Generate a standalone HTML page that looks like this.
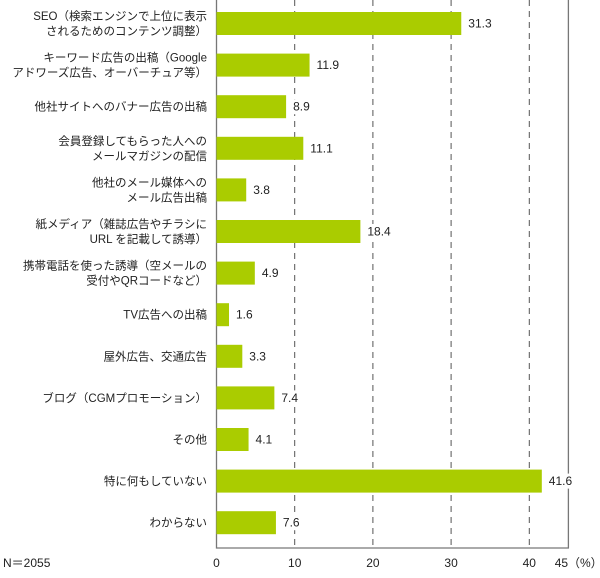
<!DOCTYPE html>
<html><head><meta charset="utf-8"><style>
body{margin:0;background:#fff;}
svg text{font-family:"Liberation Sans","Noto Sans CJK JP",sans-serif;fill:#222;}
</style></head><body>
<svg width="600" height="573" id="c"></svg>
<script>
const categories=[["SEO（検索エンジンで上位に表示","されるためのコンテンツ調整）"],["キーワード広告の出稿（Google","アドワーズ広告、オーバーチュア等）"],["他社サイトへのバナー広告の出稿"],["会員登録してもらった人への","メールマガジンの配信"],["他社のメール媒体への","メール広告出稿"],["紙メディア（雑誌広告やチラシに","URL を記載して誘導）"],["携帯電話を使った誘導（空メールの","受付やQRコードなど）"],["TV広告への出稿"],["屋外広告、交通広告"],["ブログ（CGMプロモーション）"],["その他"],["特に何もしていない"],["わからない"]];
const values=[31.3,11.9,8.9,11.1,3.8,18.4,4.9,1.6,3.3,7.4,4.1,41.6,7.6];
const ticks=[0,10,20,30,40];
const ns="http://www.w3.org/2000/svg",svg=document.getElementById('c');
const x0=216.5,xs=7.82,barTop=12,step=41.6,bh=23,bottom=548;
const X=v=>x0+v*xs;
function el(t,a){const e=document.createElementNS(ns,t);for(const k in a)e.setAttribute(k,a[k]);svg.appendChild(e);return e;}
ticks.slice(1).forEach(t=>{const l=el('line',{x1:X(t),x2:X(t),y1:0,y2:bottom,stroke:'#555','stroke-dasharray':'6,5','stroke-width':1});

});
const ax=el('path',{d:`M${x0} 0V${bottom}H${X(45)}V0`,stroke:'#777',fill:'none','stroke-width':1.3});


values.forEach((v,i)=>{const y=barTop+i*step;
const r=el('rect',{x:x0,y:y,width:v*xs,height:bh,fill:'#aacc00'});


const bg=el('rect',{x:X(v)+4,y:y+4,width:28,height:15,fill:'#fff'});


const t=el('text',{x:X(v)+7,y:y+bh/2+4,'font-size':12});t.textContent=v.toFixed(1);


const lines=categories[i];lines.forEach((s,j)=>{const yy=y+bh/2+4+(j-(lines.length-1)/2)*15;
const c=el('text',{x:207,y:yy,'font-size':11.5,'text-anchor':'end'});c.textContent=s;

});});
ticks.forEach(t=>{const e=el('text',{x:X(t),y:567,'font-size':12,'text-anchor':'middle'});e.textContent=t;

});
const t45=el('text',{x:X(45)-7,y:567,'font-size':12,'text-anchor':'middle'});t45.textContent='45';


const p=el('text',{x:568,y:567,'font-size':12});p.textContent='（%）';


const n=el('text',{x:3,y:567,'font-size':12});n.textContent='N＝2055';


</script></body></html>
